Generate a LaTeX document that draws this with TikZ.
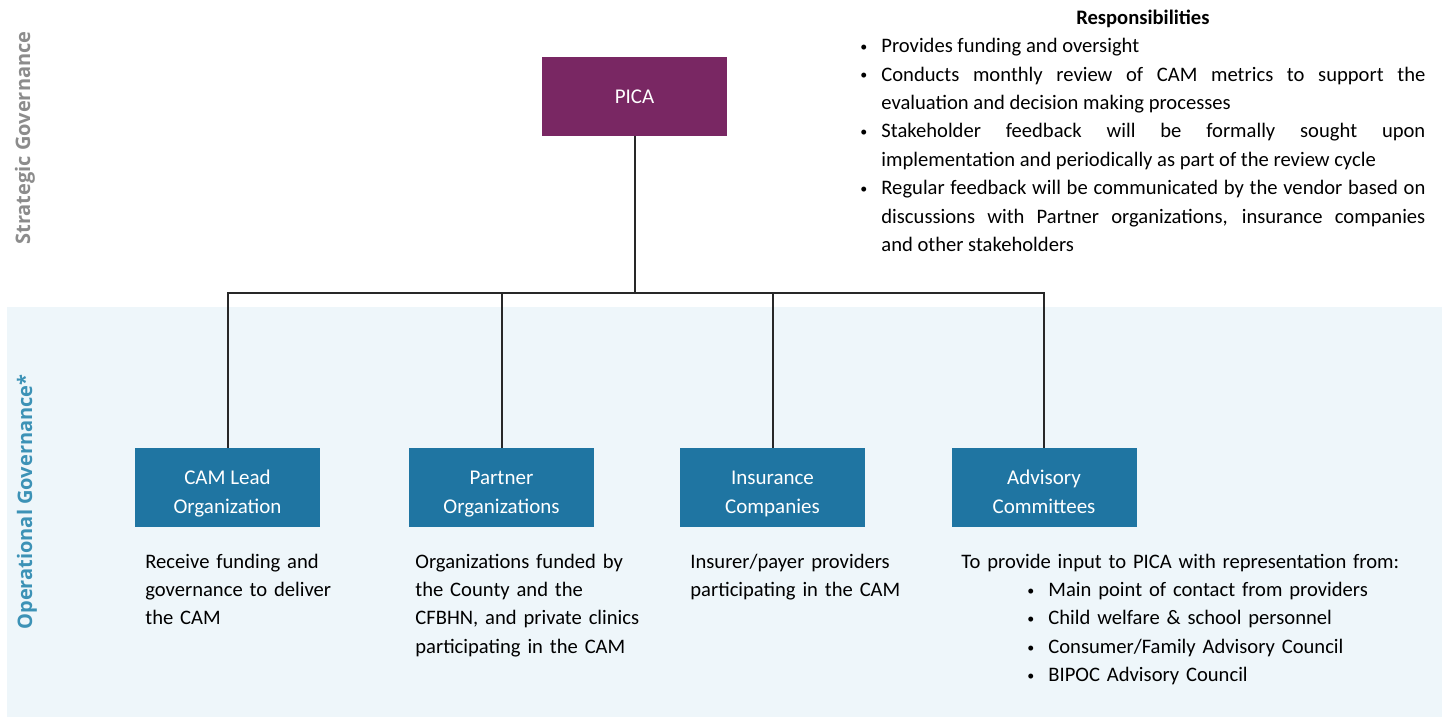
\documentclass[tikz,border=0pt]{standalone}
\usepackage{fontspec}
\setmainfont{Carlito}
\newfontfamily\sidefont{Open Sans}
\definecolor{picapurple}{RGB}{121,39,99}
\definecolor{govblue}{RGB}{31,117,162}
\definecolor{bandblue}{RGB}{238,246,250}
\definecolor{opblue}{RGB}{60,146,182}
\definecolor{stratgray}{RGB}{140,140,140}
\definecolor{linkgray}{RGB}{40,40,40}
\newcommand{\smallbul}{\raisebox{0.6pt}{\fontsize{7}{7}\selectfont\textbullet}}
\newcommand{\bul}[1]{\par\hangindent=10.5pt\hangafter=1\noindent\makebox[10.5pt][l]{\smallbul}#1\par}
\newcommand{\advitem}{\hspace*{33pt}\makebox[10.5pt][l]{\smallbul}}
\tikzset{
    org_box/.style = {rectangle, inner sep=0pt, align=center, text=white, minimum width=92.5pt, minimum height=39.5pt, font=\fontsize{10.5}{14.5}\selectfont},
    top_node/.style = {org_box, fill=picapurple},
    gov_node/.style = {org_box, fill=govblue, text height=25.5pt, text depth=0pt},
    desc/.style = {inner sep=0pt, anchor=base west, align=left, text width=150pt, font=\fontsize{10.3}{14.2}\selectfont},
    side/.style = {rotate=90, inner sep=0pt, font=\sidefont\bfseries\fontsize{10}{12}\selectfont},
    link/.style = {draw=linkgray, line width=1pt}
}

\begin{document}
\begin{tikzpicture}[x=0.5pt, y=-0.5pt]
    \useasboundingbox (0,0) rectangle (1442,717);
    % operational band
    \fill[bandblue] (7,307) rectangle (1442,717);

    \node [side, text=stratgray] (strat) at (25,138) {Strategic Governance};
    \node [side, text=opblue] (oper) at (27,502) {Operational Governance*};

    \node [top_node] (pica) at (634.5,96.5) {PICA};

    \node [gov_node] (cam) at (227.5,487.5) {CAM Lead\\Organization};
    \node [gov_node] (partner) at (501.5,487.5) {Partner\\Organizations};
    \node [gov_node] (insurance) at (772.5,487.5) {Insurance\\Companies};
    \node [gov_node] (advisory) at (1044,487.5) {Advisory\\Committees};

    \coordinate (bus) at (0,293);
    \foreach \b in {cam,partner,insurance,advisory}
        \draw [link] (pica.south) -- (pica.south |- bus) -| (\b.north);

    \node [desc, text width=282.5pt, align=justify] (resp) at (860,24.3) {%
        {\centering\bfseries Responsibilities\par}
        \bul{Provides funding and oversight}
        \bul{Conducts monthly review of CAM metrics to support the\linebreak evaluation and decision making processes}
        \bul{Stakeholder feedback will be formally sought upon\linebreak implementation and periodically as part of the review cycle}
        \bul{Regular feedback will be communicated by the vendor based on\linebreak discussions with Partner organizations, insurance companies\linebreak and other stakeholders}};

    \node [desc] (camtext) at (145,568) {Receive funding and\\governance to deliver\\the CAM};
    \node [desc] (partnertext) at (415,568) {Organizations funded by\\the County and the\\CFBHN, and private clinics\\participating in the CAM};
    \node [desc] (insurancetext) at (690,568) {Insurer/payer providers\\participating in the CAM};
    \node [desc, text width=240pt] (advisorytext) at (961,568) {To provide input to PICA with representation from:\\
        \advitem Main point of contact from providers\\
        \advitem Child welfare \& school personnel\\
        \advitem Consumer/Family Advisory Council\\
        \advitem BIPOC Advisory Council};
\end{tikzpicture}
\end{document}
